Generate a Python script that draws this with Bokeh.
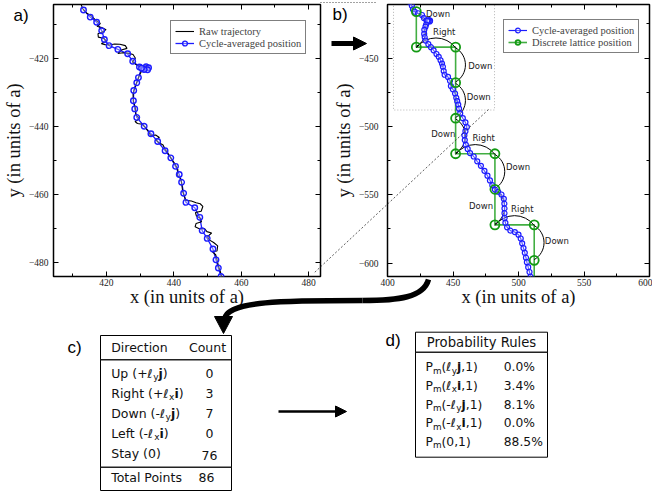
import math
from bokeh.plotting import figure
from bokeh.models import (Range1d, LinearAxis, Legend, LegendItem, Arrow, NormalHead,
                          BoxAnnotation, SingleIntervalTicker, ColumnDataSource)
from bokeh.layouts import row, column
from bokeh.embed import file_html
from bokeh.resources import INLINE
from bokeh.core.properties import value

# ---------------------------------------------------------------- data
# cycle-averaged positions (units of a)
cyc_x = [413.2, 415.2, 417.1, 418.6, 419.4, 420.8, 423.4, 426.3, 427.8, 429.8,
         431.0, 431.8, 432.5, 432.2, 431.2, 430.4, 429.5, 429.0, 428.1, 428.0,
         428.4, 429.0, 431.2, 433.2, 435.2, 437.4, 439.1, 440.5, 441.6, 442.3,
         442.9, 443.6, 446.2, 447.7, 448.4, 449.9, 451.6, 452.5, 453.2, 454.0,
         454.6, 455.5, 457.5, 459.5, 460.6, 459.5, 458.7, 459.0, 459.8, 461.2,
         463.0, 465.8, 468.5, 471.3, 474.0, 476.3, 478.2, 480.0, 482.0, 484.5,
         487.0, 488.8, 489.2, 489.3, 489.3, 489.4, 490.0, 491.3, 493.8, 497.2,
         500.0, 501.7, 502.8, 503.8, 504.8, 505.7, 506.4, 507.4, 508.4, 509.2,
         509.8]
cyc_y = [-405.6, -407.7, -409.2, -411.7, -414.3, -416.1, -417.2, -418.5, -420.7, -422.4,
         -422.9, -422.3, -422.6, -423.2, -423.1, -422.7, -425.5, -427.0, -429.3, -432.3,
         -434.7, -437.2, -439.8, -442.0, -444.3, -447.0, -449.1, -451.6, -454.0, -456.3,
         -459.5, -462.2, -463.8, -466.6, -470.5, -472.8, -475.9, -479.1, -481.5, -484.0,
         -487.0, -490.5, -494.0, -497.0, -500.5, -503.5, -506.5, -510.0, -513.5, -516.5,
         -519.5, -522.0, -525.5, -528.8, -532.5, -536.0, -539.5, -543.0, -546.2, -547.8,
         -549.8, -553.0, -556.5, -560.0, -563.5, -567.0, -570.5, -573.8, -576.2, -577.3,
         -579.2, -582.0, -585.5, -589.0, -592.5, -596.0, -599.3, -603.0, -606.5, -610.0,
         -613.0]

# raw trajectory (units of a)
raw_x = [412.3, 413.0, 414.2, 415.6, 416.8, 418.2, 417.2, 418.6, 419.9, 418.8,
         417.5, 417.6, 419.3, 420.0, 418.5, 419.6, 420.9, 422.4, 424.0, 425.6,
         426.1, 424.4, 423.4, 424.9, 426.4, 427.9, 428.6, 427.7, 428.9, 430.1,
         431.5, 432.6, 431.9, 430.4, 429.8, 429.2, 428.5, 427.9, 428.0, 428.6,
         428.7, 429.8, 428.5, 429.2, 430.6, 431.6, 432.3, 433.1, 434.6, 435.7,
         434.6, 435.5, 436.8, 437.4, 438.3, 439.3, 440.4, 441.2, 441.0, 442.1,
         442.4, 442.6, 443.2, 443.5, 445.2, 446.6, 447.8, 448.6, 448.1, 446.4,
         446.7, 447.9, 448.2, 446.6, 446.3, 447.7, 449.1, 449.8, 451.2, 450.0,
         450.6, 451.8, 453.0, 452.8, 451.3, 452.4, 452.8, 453.2, 453.8, 454.3]
raw_y = [-403.5, -405.3, -406.6, -407.4, -408.6, -409.6, -410.4, -410.8, -411.4, -412.1,
         -412.6, -413.6, -414.0, -414.8, -415.5, -415.8, -415.9, -415.6, -415.7, -416.1,
         -416.9, -417.4, -418.4, -418.2, -418.3, -418.7, -419.8, -420.9, -421.7, -422.3,
         -422.0, -422.4, -423.4, -423.6, -424.8, -426.4, -428.2, -430.3, -432.5, -434.4,
         -436.3, -437.6, -438.4, -439.0, -439.2, -440.2, -441.2, -442.5, -442.4, -443.1,
         -443.8, -444.6, -445.3, -446.6, -447.8, -449.4, -451.0, -452.6, -454.1, -455.4,
         -457.1, -459.0, -460.6, -461.6, -461.8, -462.3, -462.6, -463.4, -464.8, -465.2,
         -466.2, -466.9, -467.9, -468.4, -469.4, -470.0, -469.9, -470.8, -471.2, -472.3,
         -473.3, -474.0, -475.0, -476.5, -476.6, -477.6, -479.0, -480.8, -482.6, -484.5]

# discrete lattice positions
lat_x = [422, 422, 452, 452, 452, 452, 482, 482, 482, 512, 512, 512]
lat_y = [-416, -442, -442, -468, -494, -520, -520, -546, -572, -572, -598, -624]

# moves between consecutive lattice positions and where their names sit
moves = ["Down", "Right", "Down", "Down", "Down", "Right", "Down", "Down", "Right", "Down"]
move_label_x = [438.6, 443.3, 470.8, 469.6, 442.6, 473.4, 499.6, 471.4, 502.9, 529.3]
move_label_y = [-417.7, -430.7, -455.7, -478.4, -505.3, -508.3, -529.8, -558.4, -560.1, -583.6]

# panel a is the region of panel b inside this box
zoom_box = dict(left=404.6, right=481.7, bottom=-488.0, top=-404.0)

# table c
dir_header = ["Direction", "Count"]
dir_labels = [
    [("Up (+ℓ", "n"), ("y", "sub"), ("j", "b"), (")", "n")],
    [("Right (+ℓ", "n"), ("x", "sub"), ("i", "b"), (")", "n")],
    [("Down (-ℓ", "n"), ("y", "sub"), ("j", "b"), (")", "n")],
    [("Left (-ℓ", "n"), ("x", "sub"), ("i", "b"), (")", "n")],
    [("Stay (0)", "n")],
]
dir_counts = [0, 3, 7, 0, 76]
total_label = "Total Points"
total_count = 86

# table d
prob_header = "Probability Rules"
prob_labels = [
    [("P", "n"), ("m", "sub"), ("(ℓ", "n"), ("y", "sub"), ("j", "b"), (",1)", "n")],
    [("P", "n"), ("m", "sub"), ("(ℓ", "n"), ("x", "sub"), ("i", "b"), (",1)", "n")],
    [("P", "n"), ("m", "sub"), ("(-ℓ", "n"), ("y", "sub"), ("j", "b"), (",1)", "n")],
    [("P", "n"), ("m", "sub"), ("(-ℓ", "n"), ("x", "sub"), ("i", "b"), (",1)", "n")],
    [("P", "n"), ("m", "sub"), ("(0,1)", "n")],
]
prob_values = ["0.0%", "3.4%", "8.1%", "0.0%", "88.5%"]

# ---------------------------------------------------------------- style
BLUE = "#1c1cff"
GREEN = "#139a13"
SERIF = "Liberation Serif"
SANS = "DejaVu Sans"
TOP_H = 312


def style_axes(p, interval, label_standoff_y):
    tick = SingleIntervalTicker(interval=interval, num_minor_ticks=2)
    p.xaxis.ticker = tick
    p.yaxis.ticker = tick
    for ax in [p.xaxis[0], p.yaxis[0]]:
        ax.major_tick_in = 5
        ax.major_tick_out = 0
        ax.minor_tick_in = 3
        ax.minor_tick_out = 0
        ax.axis_line_color = None
        ax.major_label_text_font = SERIF
        ax.major_label_text_font_size = "9.5px"
        ax.major_label_text_color = "#222222"
        ax.axis_label_text_font = SERIF
        ax.axis_label_text_font_size = "18.5px"
        ax.axis_label_text_font_style = "normal"
        ax.axis_label_text_color = "#111111"
    p.xaxis.major_label_standoff = 2
    p.xaxis.axis_label_standoff = -2
    p.yaxis.major_label_standoff = label_standoff_y
    p.yaxis.axis_label_standoff = 2
    p.xaxis.axis_label = "x (in units of a)"
    p.yaxis.axis_label = "y (in units of a)"
    # mirrored tick marks on the top and right edges (no labels)
    for loc in ["above", "right"]:
        ax = LinearAxis(ticker=tick, major_tick_in=5, major_tick_out=0, minor_tick_in=3,
                        minor_tick_out=0, axis_line_color=None,
                        major_label_text_color=None, major_label_text_alpha=0,
                        major_label_text_font_size="9px", major_label_standoff=0)
        p.add_layout(ax, loc)
    p.grid.visible = False
    p.outline_line_color = "black"
    p.outline_line_width = 1.5


def style_legend(p, items, loc):
    lg = Legend(items=items, location=loc, padding=4, spacing=0, margin=0,
                label_height=12, glyph_height=12, glyph_width=19, label_standoff=5,
                label_text_font=SERIF, label_text_font_size="10.5px",
                border_line_color="black", border_line_width=1,
                background_fill_color="white", background_fill_alpha=1.0)
    p.add_layout(lg, "center")


# ---------------------------------------------------------------- panel a
pa = figure(width=330, height=TOP_H, x_range=Range1d(404.3, 483.5), y_range=Range1d(-484, -404),
            output_backend="svg", toolbar_location=None,
            min_border_left=47, min_border_right=10, min_border_top=4, min_border_bottom=36)
style_axes(pa, 20, 5)
ca_l = pa.line(cyc_x, cyc_y, line_color=BLUE, line_width=1.3)
ra = pa.line(raw_x, raw_y, line_color="black", line_width=1.1)
ca_s = pa.scatter(cyc_x, cyc_y, marker="circle", size=5.5, line_color=BLUE, line_width=1.4,
                  fill_color="white", fill_alpha=0.35)
style_legend(pa, [LegendItem(label="Raw trajectory", renderers=[ra]),
                  LegendItem(label="Cycle-averaged position", renderers=[ca_l, ca_s])], (117, 222))

# ---------------------------------------------------------------- panel b
pb = figure(width=322, height=TOP_H, x_range=Range1d(400, 600), y_range=Range1d(-609.8, -410.8),
            output_backend="svg", toolbar_location=None,
            min_border_left=47, min_border_right=3, min_border_top=4, min_border_bottom=36)
style_axes(pb, 50, 9)

pb.add_layout(BoxAnnotation(left=zoom_box["left"], right=zoom_box["right"],
                            bottom=zoom_box["bottom"], top=zoom_box["top"],
                            fill_alpha=0, line_color="black", line_width=1, line_dash="1 2"))

gl = pb.line(lat_x, lat_y, line_color=GREEN, line_width=1.6, line_alpha=0.8)

ARC_SAG = 7.5
arc_src = dict(x=[], y=[], r=[], a0=[], a1=[])
for i, mv in enumerate(moves):
    x0, y0, x1, y1 = lat_x[i], lat_y[i], lat_x[i + 1], lat_y[i + 1]
    mx, my = (x0 + x1) / 2, (y0 + y1) / 2
    h = math.hypot(x1 - x0, y1 - y0) / 2
    r = (h * h + ARC_SAG * ARC_SAG) / (2 * ARC_SAG)
    dx, dy = (0, 1) if mv == "Right" else (1, 0)
    phi = math.atan2(dy, dx)
    alpha = math.atan2(h, r - ARC_SAG)
    arc_src["x"].append(mx - (r - ARC_SAG) * dx)
    arc_src["y"].append(my - (r - ARC_SAG) * dy)
    arc_src["r"].append(r)
    arc_src["a0"].append(phi - alpha)
    arc_src["a1"].append(phi + alpha)
pb.arc(x="x", y="y", radius="r", start_angle="a0", end_angle="a1", direction="anticlock",
       source=ColumnDataSource(arc_src), line_color="black", line_width=1)

cb_l = pb.line(cyc_x, cyc_y, line_color=BLUE, line_width=1.2)
cb_s = pb.scatter(cyc_x, cyc_y, marker="circle", size=5, line_color=BLUE, line_width=1.2,
                  fill_color="white", fill_alpha=0.3)
gs = pb.scatter(lat_x, lat_y, marker="circle", size=9, line_color=GREEN, line_width=1.8,
                fill_alpha=0)
pb.text(x=move_label_x, y=move_label_y, text=moves, text_font=value(SANS),
        text_font_size="8.5px", text_align="center", text_baseline="middle",
        text_color="#222222")
style_legend(pb, [LegendItem(label="Cycle-averaged position", renderers=[cb_l, cb_s]),
                  LegendItem(label="Discrete lattice position", renderers=[gl, gs])], (116, 223))

# ---------------------------------------------------------------- overlay (pixel space)
ov = figure(width=652, height=491, x_range=Range1d(0, 652), y_range=Range1d(491, 0),
            output_backend="svg", toolbar_location=None, x_axis_location=None,
            y_axis_location=None, min_border=0, margin=(-TOP_H, 0, 0, 0))
ov.grid.visible = False
ov.outline_line_color = None
ov.background_fill_color = None
ov.border_fill_color = None

ov.text(x=[13, 332, 67, 385], y=[15, 14, 347, 340], text=["a)", "b)", "c)", "d)"],
        text_font=value("Liberation Sans"), text_font_size="17px", text_baseline="middle",
        text_color="black")

# zoom connectors
ov.line([320, 377], [2, 2], line_color="#444444", line_width=1, line_dash="1 2")
ov.line([488, 314], [109, 272], line_color="#333333", line_width=0.8, line_dash="2 2")

# a -> b arrow
ov.add_layout(Arrow(x_start=331, y_start=43, x_end=366, y_end=43, line_width=5,
                    end=NormalHead(size=13, fill_color="black", line_color="black")))
# b -> c curved arrow
ov.bezier(x0=[428, 362], y0=[279, 300], x1=[362, 224], y1=[300, 319],
          cx0=[423, 285], cy0=[297, 300], cx1=[398, 226], cy1=[300, 300],
          line_color="black", line_width=5.5)
ov.patch([214, 232, 223], [316, 316, 333], color="black")
# c -> d arrow
ov.add_layout(Arrow(x_start=278, y_start=411, x_end=346, y_end=411, line_width=2.5,
                    end=NormalHead(size=11, fill_color="black", line_color="black")))

# ---- tables
EM = {' ': 0.318, '(': 0.390, ')': 0.390, '+': 0.838, '-': 0.361, ',': 0.318, '.': 0.318,
      '%': 0.950, 'U': 0.732, 'p': 0.635, 'R': 0.695, 'i': 0.278, 'g': 0.635, 'h': 0.634,
      't': 0.392, 'D': 0.770, 'o': 0.612, 'w': 0.818, 'n': 0.634, 'L': 0.557, 'e': 0.615,
      'f': 0.352, 'S': 0.635, 'a': 0.613, 'y': 0.592, 'x': 0.592, 'P': 0.603, 'm': 0.974,
      'T': 0.611, 'l': 0.278, 's': 0.521, 'r': 0.411, 'c': 0.550, 'u': 0.634, 'b': 0.635,
      'ℓ': 0.45, 'j': 0.278}
EM_B = {'i': 0.343, 'j': 0.343}
for d in "0123456789":
    EM[d] = 0.636

texts = {}   # (size, style, align) -> columns
BASE_DY = 0.0   # baseline offset from the row centre


def put(x, y, t, size, style="normal", align="left"):
    key = (round(size, 2), style, align)
    col = texts.setdefault(key, dict(x=[], y=[], text=[]))
    col["x"].append(x)
    col["y"].append(y)
    col["text"].append(t)


def put_runs(runs, x0, yb, size):
    x = x0
    for t, kind in runs:
        if kind == "sub":
            fs = size * 0.72
            put(x, yb + size * 0.28, t, fs)
            x += sum(EM.get(c, 0.6) for c in t) * fs
        elif kind == "b":
            put(x, yb, t, size, "bold")
            x += sum(EM_B.get(c, 0.65) for c in t) * size
        else:
            put(x, yb, t, size)
            x += sum(EM.get(c, 0.6) for c in t) * size


# table c
C_FS = 12.5
c_box = dict(left=100, right=231, top=335, bottom=490, head=359.3, foot=466.7)
ov.quad(left=[c_box["left"]], right=[c_box["right"]], top=[c_box["top"]],
        bottom=[c_box["bottom"]], fill_color=None, line_color="black", line_width=1)
ov.segment(x0=[c_box["left"]] * 2, x1=[c_box["right"]] * 2, y0=[c_box["head"], c_box["foot"]],
           y1=[c_box["head"], c_box["foot"]], line_color="#222222", line_width=1.6)
put(110.7, 346.7 + BASE_DY, dir_header[0], C_FS)
put(207, 346.7 + BASE_DY, dir_header[1], C_FS, align="center")
for k, (runs, cnt) in enumerate(zip(dir_labels, dir_counts)):
    yb = 373.3 + 20 * k + BASE_DY
    put_runs(runs, 110.7, yb, C_FS)
    put(209, yb + (1.5 if k == 4 else 0), str(cnt), C_FS, align="center")
put(110.7, 476.7 + BASE_DY, total_label, C_FS)
put(206, 476.7 + BASE_DY, str(total_count), C_FS, align="center")

# table d
D_FS = 12.3
d_box = dict(left=415, right=547, top=331.7, bottom=456.7, head=351.7)
ov.quad(left=[d_box["left"]], right=[d_box["right"]], top=[d_box["top"]],
        bottom=[d_box["bottom"]], fill_color=None, line_color="black", line_width=1)
ov.segment(x0=[d_box["left"]], x1=[d_box["right"]], y0=[d_box["head"]], y1=[d_box["head"]],
           line_color="#222222", line_width=1.6)
put(481, 341.7 + BASE_DY, prob_header, 13.2, align="center")
for k, (runs, val) in enumerate(zip(prob_labels, prob_values)):
    yb = 366.7 + 18.7 * k + BASE_DY
    put_runs(runs, 425, yb, D_FS)
    put(503.3, yb, val, D_FS)

for (size, style, align), col in texts.items():
    ov.text(x="x", y="y", text="text", source=ColumnDataSource(col), text_font=value(SANS),
            text_font_size=f"{size}px", text_font_style=style, text_align=align,
            text_baseline="alphabetic", text_color="#111111")

layout = column(row(pa, pb), ov)
open("out.html", "w").write(file_html(layout, INLINE))
